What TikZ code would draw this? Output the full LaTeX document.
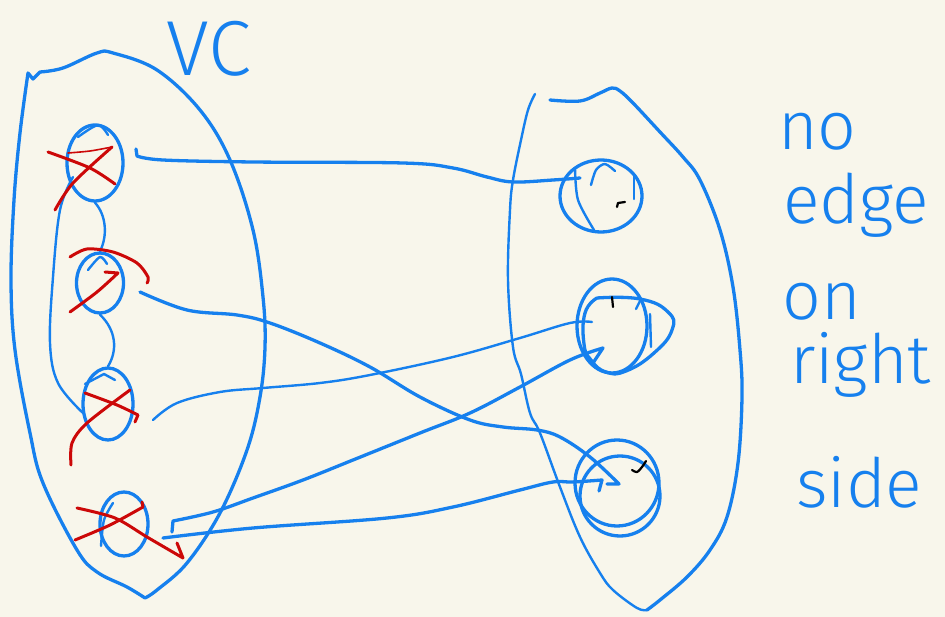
\documentclass[tikz,border=0pt]{standalone}
\usepackage{fontspec}
\usetikzlibrary{shapes.geometric}
\newfontfamily\handfont{Fira Sans Light}
\definecolor{ink}{RGB}{22,128,238}
\definecolor{strike}{RGB}{204,8,8}
\definecolor{paper}{RGB}{248,246,235}

\begin{document}
\begin{tikzpicture}[x=1pt,y=-1pt,
  pen/.style={draw=ink, line width=3.3pt, line cap=round, line join=round},
  thinpen/.style={pen, line width=2.4pt},
  cross/.style={draw=strike, line width=3pt, line cap=round, line join=round},
  vertex/.style={ellipse, pen, inner sep=0pt},
  tickmark/.style={draw=black, line width=2.2pt, line cap=round, line join=round},
  word/.style={text=ink, font=\handfont\fontsize{68}{68}\selectfont, inner sep=0pt, anchor=base west}]

% canvas
\fill[paper] (0,0) rectangle (945,617);
\useasboundingbox (0,0) rectangle (945,617);

% ---------- left set (vertex cover) ----------
\draw[pen] plot[smooth, tension=0.6] coordinates {(145,598) (127,587) (97,572) (77,550) (43,483) (30,433) (15,350) (11,280) (14,200) (20,133) (28,73)}
  -- (33,79) -- plot[smooth, tension=0.6] coordinates {(40,72) (63,68) (97,53) (113,53) (157,70) (200,110) (230,160) (253,230) (263,297) (265,347) (260,397) (247,450) (220,513) (187,563) (157,590) (145,598)};

\node[word, font=\handfont\fontsize{78}{78}\selectfont] (vc) at (166,76) {VC};

\node[vertex, minimum width=56pt, minimum height=76pt] (v1) at (95,163) {};
\node[vertex, minimum width=47pt, minimum height=60pt] (v2) at (100,283) {};
\node[vertex, minimum width=50pt, minimum height=72pt] (v3) at (108,404) {};
\node[vertex, minimum width=48pt, minimum height=64pt] (v4) at (124,524) {};

% pen overlaps on the left vertices
\draw[thinpen] plot[smooth] coordinates {(78,137) (98,125) (108,135)};
\draw[thinpen] plot[smooth] coordinates {(88,270) (100,257) (107,264)};
\draw[thinpen] (85,384) -- (104,374) -- (115,380);
\draw[thinpen] plot[smooth] coordinates {(113,503) (104,520) (101,546)};

% edges inside the left set
\draw[thinpen] (v1.south) .. controls (106,215) and (108,235) .. (v2.north);
\draw[thinpen] (v2.south) .. controls (116,330) and (118,350) .. (v3.north);
\coordinate (l1) at (73,177);
\coordinate (l3) at (83,413);
\draw[thinpen] plot[smooth, tension=0.6] coordinates {(l1) (60,210) (53,277) (50,343) (58,383) (l3)};

% red strikes through the crossed-out vertices
\draw[cross] plot[smooth] coordinates {(48,152) (90,168) (115,184)};
\draw[cross] plot[smooth] coordinates {(55,210) (73,183) (112,147)};
\draw[cross, line width=1.6pt] plot[smooth] coordinates {(112,147) (90,151) (68,153)};

\draw[cross] plot[smooth] coordinates {(70,257) (87,249) (113,252) (137,263) (148,277) (147,283)};
\draw[cross] plot[smooth] coordinates {(70,312) (97,292) (118,273)} -- (105,272);

\draw[cross] plot[smooth] coordinates {(85,393) (117,405) (138,415)} -- (135,422);
\draw[cross] plot[smooth] coordinates {(71,465) (72,443) (87,423) (130,390)};

\draw[cross] plot[smooth] coordinates {(77,508) (115,518) (147,537) (183,558)} -- (177,543);
\draw[cross] plot[smooth] coordinates {(75,540) (110,525) (143,507)} -- (142,502);

% ---------- right set ----------
\draw[pen] plot[smooth, tension=0.6] coordinates {(550,100) (580,101) (600,93) (612,88) (620,91) (633,103) (660,132) (683,157) (700,180) (720,230) (733,287) (740,350) (742,397) (738,463) (727,517) (710,550) (687,577) (660,600) (647,610)};
\draw[thinpen] plot[smooth, tension=0.6] coordinates {(647,610) (637,608) (613,590) (600,573) (580,537) (560,487) (540,433) (530,413) (521,374) (513,347) (508,280) (510,210) (513,180) (521,140) (528,110) (535,94)};

\node[vertex, minimum width=82pt, minimum height=72pt] (w1) at (601,196) {};
\node[vertex, minimum width=70pt, minimum height=94pt] (w2) at (612,326) {};
\node[vertex, minimum width=84pt, minimum height=86pt] (w3) at (617,483) {};

% pen overlaps on the right vertices
\draw[thinpen] plot[smooth] coordinates {(575,168) (578,200) (594,230)};
\draw[thinpen] plot[smooth] coordinates {(591,185) (596,170) (605,164) (615,171)};
\draw[thinpen] (634,175) -- (634,199);
\draw[pen] plot[smooth, tension=0.8] coordinates {(597,298) (640,299) (668,312) (672,330) (654,353) (626,371) (606,372) (591,360) (584,344) (585,313) (597,298)};
\draw[thinpen] (650,314) -- (651,347);
\draw[thinpen] (641,299) -- (636,309);
\draw[pen] (620,496) ellipse [x radius=40, y radius=40];

% small black marks
\draw[tickmark] (617,207) -- (618,203) -- (625,202);
\draw[tickmark] (612,297) -- (613,307);
\draw[tickmark] plot[smooth] coordinates {(632,470) (637,472) (642,467) (646,461)};

% ---------- edges between the sets ----------
\coordinate (a1) at (136,149);
\coordinate (b1) at (580,178);
\draw[pen] (a1) -- (137,156) -- plot[smooth, tension=0.6] coordinates {(137,156) (163,160) (253,162) (403,163) (453,168) (487,177) (513,182) (553,180) (b1)};

\coordinate (a2) at (140,292);
\coordinate (b2) at (619,484);
\draw[pen] plot[smooth, tension=0.6] coordinates {(a2) (187,310) (237,315) (270,323) (320,343) (370,367) (420,397) (470,420) (503,427) (537,430) (560,437) (590,457) (b2)} -- (607,484);

\coordinate (a3) at (153,420);
\coordinate (b3) at (592,322);
\draw[thinpen] plot[smooth, tension=0.6] coordinates {(a3) (177,403) (220,392) (263,388) (320,383) (370,375) (453,357) (520,338) (570,323) (b3)};

\coordinate (a4) at (172,532);
\coordinate (b4) at (603,348);
\draw[pen] (a4) -- (173,521) -- plot[smooth, tension=0.6] coordinates {(173,521) (213,512) (253,498) (303,480) (353,460) (420,433) (470,413) (520,387) (570,360) (b4)} -- (593,363);

\coordinate (a5) at (163,538);
\coordinate (b5) at (602,480);
\draw[pen] plot[smooth, tension=0.6] coordinates {(a5) (253,528) (387,518) (453,507) (520,490) (553,482) (573,482) (b5)} -- (599,491);

% ---------- note ----------
\node[word] (t1) at (778,150) {no};
\node[word] (t2) at (783,224) {edge};
\node[word] (t3) at (782,320) {on};
\node[word] (t4) at (790,384) {right};
\node[word] (t5) at (796,507) {side};
\end{tikzpicture}
\end{document}
